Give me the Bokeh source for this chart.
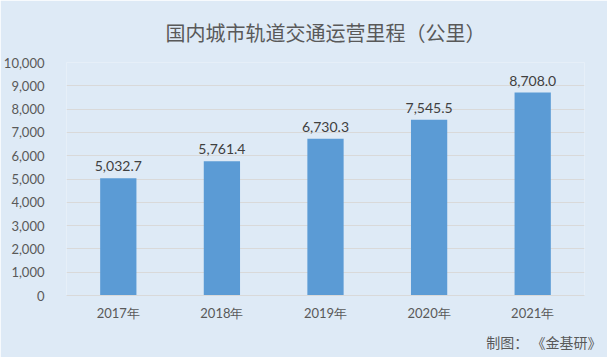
from bokeh.plotting import figure
from bokeh.models import ColumnDataSource, FactorRange, Range1d, FixedTicker, NumeralTickFormatter, LabelSet, Title
from bokeh.core.properties import value
from bokeh.embed import file_html
from bokeh.resources import INLINE

years = ["2017年", "2018年", "2019年", "2020年", "2021年"]
mileage = [5032.7, 5761.4, 6730.3, 7545.5, 8708.0]
labels = ["{:,.1f}".format(v) for v in mileage]
y_ticks = list(range(0, 10001, 1000))
title_text = "国内城市轨道交通运营里程（公里）"
source_text = "制图： 《金基研》"

BG = "#DEEAF6"
FONT = "Lato"
CJK = "Noto Sans CJK SC"

src = ColumnDataSource(dict(x=years, y=mileage, label=labels))

p = figure(width=607, height=357, x_range=FactorRange(*years, range_padding=0),
           y_range=Range1d(0, 10000), output_backend="svg", toolbar_location=None,
           background_fill_color=BG, border_fill_color=BG,
           min_border_left=66, min_border_right=23, min_border_top=0, min_border_bottom=20)
p.outline_line_color = None

p.title.text = title_text
p.title.align = "center"
p.title.text_font = CJK
p.title.text_font_size = "20px"
p.title.text_font_style = "normal"
p.title.text_color = "#595959"
p.title.standoff = 31

src_title = Title(text=source_text, align="right", text_font=CJK, text_font_size="14px",
                  text_font_style="normal", text_color="#595959", offset=-17, standoff=12)
p.add_layout(src_title, "below")

p.vbar(x="x", top="y", width=0.35, source=src, fill_color="#5B9BD5", line_color=None)

p.add_layout(LabelSet(x="x", y="y", text="label", source=src, text_align="center",
                      text_baseline="bottom", y_offset=7, text_font_size="14px",
                      text_font=value(FONT), text_color="#404040"))

p.yaxis.ticker = FixedTicker(ticks=y_ticks)
p.yaxis.formatter = NumeralTickFormatter(format="0,0")
p.yaxis.axis_line_color = None
p.yaxis.major_tick_line_color = None
p.yaxis.minor_tick_line_color = None
p.yaxis.major_label_standoff = 16
p.yaxis.major_label_text_font_size = "13px"
p.yaxis.major_label_text_font = FONT
p.yaxis.major_label_text_color = "#595959"

p.xaxis.axis_line_color = "#D9D9D9"
p.xaxis.major_tick_line_color = None
p.xaxis.minor_tick_line_color = None
p.xaxis.major_label_standoff = 3
p.xaxis.major_label_text_font_size = "13px"
p.xaxis.major_label_text_font = FONT
p.xaxis.major_label_text_color = "#595959"

p.xgrid.grid_line_color = None
p.ygrid.grid_line_color = "#D9D9D9"
p.ygrid.ticker = FixedTicker(ticks=y_ticks)

open("out.html", "w").write(file_html(p, INLINE))
